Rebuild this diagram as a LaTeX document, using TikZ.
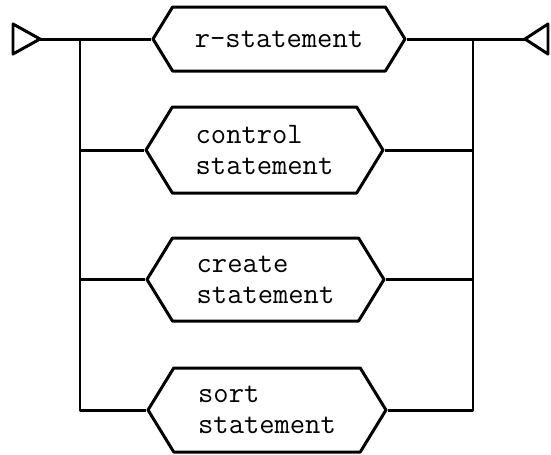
\documentclass[tikz,border=0pt]{standalone}
\usepackage{fontspec}
\usetikzlibrary{shapes.symbols}

\begin{document}
\begin{tikzpicture}[line width=1.7pt,line join=round,
  stmt/.style={draw,shape=signal,signal to=west and east,
    signal pointer angle=117,inner sep=2pt,align=left,
    font=\ttfamily\fontsize{16.9}{17.6}\selectfont}]
  \useasboundingbox (0,0) rectangle (11.02,-9.08);
  \node[stmt,minimum width=5.04cm,minimum height=1.28cm] (rst) at (5.58,-.78) {r-statement};
  \node[stmt,minimum width=4.74cm,minimum height=1.72cm] (ctl) at (5.29,-3) {control\\statement};
  \node[stmt,minimum width=4.74cm,minimum height=1.66cm] (crt) at (5.31,-5.59) {create\\statement};
  \node[stmt,minimum width=4.76cm,minimum height=1.68cm] (srt) at (5.34,-8.2) {sort\\statement};
  \coordinate (in) at (.8,-.78);
  \coordinate (out) at (10.5,-.78);
  \coordinate (lbus) at (1.6,-.78);
  \coordinate (rbus) at (9.46,-.78);
  % entry and exit
  \draw (in) -- ++(-.54,.3) -- ++(0,-.6) -- cycle;
  \draw (out) -- ++(.46,.3) -- ++(0,-.6) -- cycle;
  \draw (in) -- (rst.west);
  \draw (rst.east) -- (out);
  % alternatives
  \draw (lbus) |- (ctl.west);
  \draw (lbus) |- (crt.west);
  \draw (lbus) |- (srt.west);
  \draw (ctl.east) -| (rbus);
  \draw (crt.east) -| (rbus);
  \draw (srt.east) -| (rbus);
\end{tikzpicture}
\end{document}
